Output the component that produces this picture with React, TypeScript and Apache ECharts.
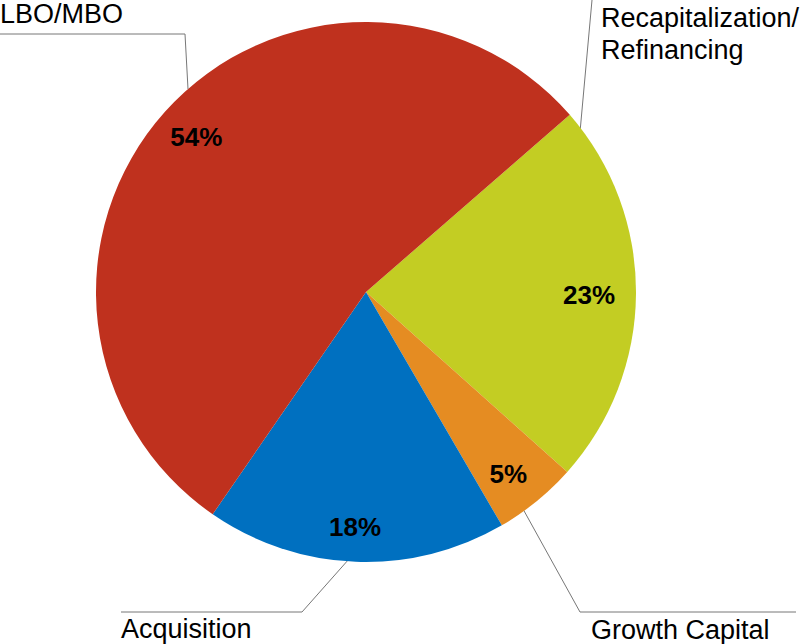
import React, { useEffect, useRef } from "react";
import * as echarts from "echarts";

const categories = ["Recapitalization/\nRefinancing", "Growth Capital", "Acquisition", "LBO/MBO"];
const values = [23, 5, 18, 54];
const colors = ["#C3CD23", "#E58C22", "#0070C0", "#BF311E"];

export default function App() {
  const ref = useRef<HTMLDivElement>(null);
  useEffect(() => {
    const chart = echarts.init(ref.current!, null, { renderer: "svg" });
    const font = "'Liberation Sans', Arial, sans-serif";
    const outer: { x: number; y: number; pts: number[][] }[] = [
      { x: 601, y: 34, pts: [[580, 132], [586, 66], [592, 0]] },
      { x: 591, y: 630, pts: [[523, 509], [580, 612], [796, 612]] },
      { x: 121, y: 629, pts: [[349, 559], [302, 612], [121, 612]] },
      { x: 0, y: 14, pts: [[188, 89], [185, 34], [0, 34]] },
    ];
    const inner = [
      [-10, 1],
      [-5, 1],
      [-2, 2],
      [4, 0],
    ];
    const data = categories.map((name, i) => ({
      name,
      value: values[i],
      itemStyle: { color: colors[i] },
    }));
    chart.setOption({
      animation: false,
      backgroundColor: "#ffffff",
      series: [
        {
          type: "pie",
          center: [366, 292],
          radius: [0, 270],
          startAngle: 41,
          clockwise: true,
          avoidLabelOverlap: false,
          silent: true,
          data,
          itemStyle: { borderWidth: 0 },
          label: {
            show: true,
            position: "outside",
            formatter: "{b}",
            fontSize: 27,
            lineHeight: 32,
            color: "#000000",
            fontFamily: font,
          },
          labelLine: {
            show: true,
            lineStyle: { color: "#777777", width: 1 },
          },
          labelLayout: (params: any) => {
            const o = outer[params.dataIndex];
            return {
              x: o.x,
              y: o.y,
              align: "left",
              verticalAlign: "middle",
              labelLinePoints: o.pts,
            };
          },
        },
        {
          type: "pie",
          center: [366, 292],
          radius: [190, 270],
          startAngle: 41,
          clockwise: true,
          silent: true,
          z: 5,
          data: categories.map((name, i) => ({
            name,
            value: values[i],
            itemStyle: { color: "rgba(0,0,0,0)" },
          })),
          label: {
            show: true,
            position: "inside",
            formatter: "{c}%",
            fontSize: 26,
            fontWeight: "bold",
            color: "#000000",
            fontFamily: font,
          },
          labelLine: { show: false },
          labelLayout: (params: any) => {
            const d = inner[params.dataIndex];
            return { dx: d[0], dy: d[1] };
          },
        },
      ],
    });
    return () => chart.dispose();
  }, []);
  return (
    <div
      ref={ref}
      style={{ position: "fixed", left: 0, top: 0, width: 807, height: 644 }}
    />
  );
}
